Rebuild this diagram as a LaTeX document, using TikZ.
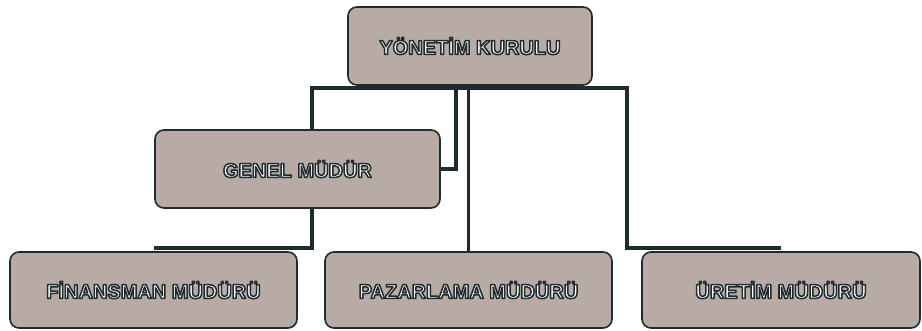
\documentclass[tikz,border=0pt]{standalone}
\usepackage{fontspec}
\setmainfont{Liberation Sans}
\definecolor{kutu}{HTML}{B8AAA4}
\definecolor{cizgi}{HTML}{1F2B2D}
\newcommand\kontur[1]{\special{pdf:literal direct 2 Tr 1.5 w 1 j 0.12 0.17 0.18 RG}#1\special{pdf:literal direct 0 Tr}}

\begin{document}
\begin{tikzpicture}[x=1pt, y=-1pt,
    birim/.style={draw=cizgi, line width=1.6pt, fill=kutu, rounded corners=9pt,
      font=\fontsize{20}{22}\selectfont\bfseries, text=white, inner sep=0pt},
    hat/.style={draw=cizgi, line width=3.5pt}]
  \fill[white] (0,0) rectangle (922,331);
  \useasboundingbox (0,0) rectangle (922,331);

      \node[birim, minimum width=244pt, minimum height=78pt] (yk) at (470, 46){\kontur{YÖNETİM KURULU}};
      \node[birim, minimum width=285pt, minimum height=78pt] (gm) at (297.5, 169){\kontur{GENEL MÜDÜR}};

      \node[birim, minimum width=287pt, minimum height=76pt] (fm) at (153.5, 290){\kontur{FİNANSMAN MÜDÜRÜ}};
      \node[birim, minimum width=287pt, minimum height=76pt] (pz) at (468.5, 290){\kontur{PAZARLAMA MÜDÜRÜ}};
      \node[birim, minimum width=278pt, minimum height=76pt] (ur) at (781, 290){\kontur{ÜRETİM MÜDÜRÜ}};

      \coordinate (sol) at (312, 88);
      \coordinate (orta) at (456, 88);
      \coordinate (sag) at (627, 88);

        \draw[hat] (gm.north -| sol) -- (sol) -- (sag) |- ([yshift=3pt]ur.north);
        \draw[hat] (gm.south -| sol) |- ([yshift=3pt]fm.north);
        \draw[hat] (orta) |- (gm.east);
        \draw[hat] (sol -| pz.north) -- (pz.north);

\end{tikzpicture}
\end{document}
